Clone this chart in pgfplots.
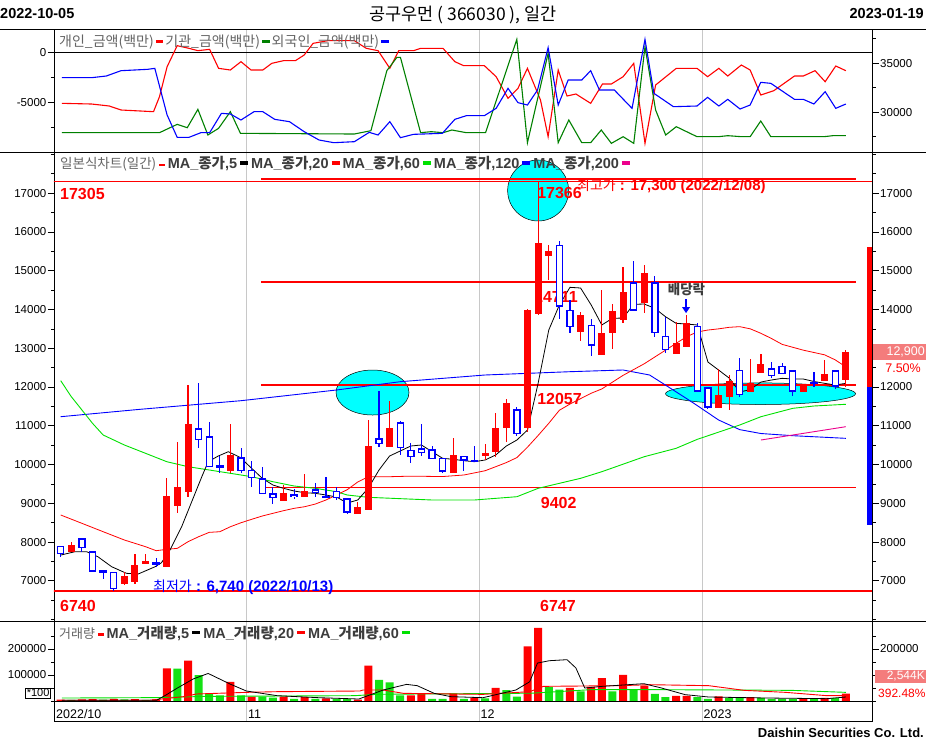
\documentclass[border=0pt]{standalone}
\usepackage{pgfplots}
\pgfplotsset{compat=1.18}
\usepackage{pgfplotstable}
\usepackage{fontspec}
\usetikzlibrary{arrows.meta}
\setmainfont{Liberation Sans}
\newfontfamily\kr{Noto Sans CJK KR}
\definecolor{cred}{RGB}{255,0,0}
\definecolor{cblue}{RGB}{0,0,255}
\definecolor{cgreen}{RGB}{0,128,0}
\definecolor{clime}{RGB}{0,225,0}
\definecolor{vgreen}{RGB}{20,225,20}
\definecolor{ccyan}{RGB}{0,255,255}
\definecolor{salmon}{RGB}{244,124,124}
\definecolor{lgray}{RGB}{200,200,200}
\definecolor{tgray}{RGB}{100,100,100}
\definecolor{dgray}{RGB}{60,60,60}
\newcommand\dash[1]{\textcolor{#1}{\rule[0.25em]{0.55em}{0.22em}}}

\pgfplotsset{
  panel/.style={
    scale only axis, width=818.5pt, anchor=north west,
    xmin=-0.6315, xmax=76.513,
    xtick={17.53,39.45,60.47}, xticklabels={}, xmajorgrids, xmajorticks=false,
    major grid style={draw=lgray, line width=0.9pt},
    axis line style={line width=0.9pt},
    tick align=outside, ytick pos=left,
    major tick length=6pt, minor tick length=3pt,
    tick style={black, line width=0.7pt},
    tick label style={font=\fontsize{11.5}{13}\selectfont, inner sep=1.5pt},
    scaled ticks=false,
    /pgf/number format/fixed,
    /pgf/number format/precision=0,
    /pgf/number format/assume math mode=true,
    /pgf/number format/1000 sep={},
  },
  rpanel/.style={
    scale only axis, width=818.5pt, anchor=north west,
    xmin=-0.6315, xmax=76.513,
    axis x line=none, axis y line*=right,
    axis line style={line width=0.9pt},
    tick align=outside, major tick length=6pt, minor tick length=3pt,
    tick style={black, line width=0.7pt},
    tick label style={font=\fontsize{11.5}{13}\selectfont, inner sep=1.5pt},
    scaled ticks=false,
    /pgf/number format/fixed,
    /pgf/number format/precision=0,
    /pgf/number format/assume math mode=true,
    /pgf/number format/1000 sep={},
  },
  level/.style={cred, line width=1.4pt},
}

\pgfplotstableread{
i O H L C
1 7752 7992 7752 7924
6 6909 7236 6884 7115
7 6978 7691 6909 7399
8 7442 7700 7425 7511
10 7365 9643 7365 9188
11 8938 10572 8758 9420
12 9300 12052 9153 11045
16 9841 11045 9790 10237
21 9067 9472 9060 9257
23 9170 9747 9170 9317
28 8715 9042 8715 8912
29 8826 11149 8826 10478
31 10461 11639 10461 10934
37 9773 10676 9773 10246
40 10228 10521 10117 10289
41 10332 11321 10203 10934
42 10934 11682 10590 11579
44 10934 14000 10848 13987
45 13883 17300 13850 15724
46 15388 15664 14761 15509
49 13419 13944 13195 13858
51 12826 14500 12826 13385
52 13385 14141 12980 13961
53 13729 15096 13659 14443
55 14175 15148 13917 14933
58 12843 13669 12843 13143
59 13040 13858 13040 13643
62 11466 12457 11466 11794
63 11734 12310 11407 12155
65 11879 12710 11879 12111
66 12369 12857 12369 12586
70 11884 12052 11884 12052
72 12155 12689 12155 12328
74 12181 12955 12008 12900
}\redT

\pgfplotstableread{
i O H L C
0 7906 7906 7623 7683
2 8096 8096 7752 7838
3 7760 7760 7218 7236
4 7270 7270 7038 7218
5 7227 7227 6740 6780
9 7477 7580 7365 7408
13 10934 12095 10418 10624
14 10727 11088 9927 9927
15 9979 10229 9773 9927
17 10185 10418 9790 9833
18 9859 10099 9429 9644
19 9644 9927 9240 9240
20 9257 9429 8973 9128
22 9231 9360 9102 9153
24 9360 9515 9153 9257
25 9188 9670 9128 9153
26 9325 9429 9085 9128
27 9128 9128 8715 8758
30 10676 11905 10461 10529
32 11088 11130 10246 10418
33 10375 10564 10031 10185
34 10418 11037 10228 10289
35 10392 10478 10134 10134
36 10177 10177 9773 9816
38 10228 10228 9842 10099
39 10099 10478 10074 10074
43 11424 11493 10736 10787
47 15664 15767 13746 14073
48 13987 14245 13385 13539
50 13600 13754 12800 13066
54 14701 15259 13950 13969
56 14701 14864 13282 13385
57 13324 13806 12885 12955
60 13582 13659 11879 11879
61 11992 11992 11425 11466
64 12439 12748 11734 11794
67 12482 12637 12232 12276
68 12547 12619 12330 12330
69 12426 12426 11781 11884
71 12137 12387 12000 12077
73 12426 12426 11948 12008
}\blueT

\pgfplotstableread{
i v
0 5000
2 6000
3 7000
5 8000
7 7000
9 6000
10 126000
12 155000
16 74000
18 17000
21 17000
23 15000
25 10000
28 5000
29 136000
33 22000
34 29000
37 29000
39 13000
41 51000
44 210000
45 281000
48 51000
50 54000
51 88000
53 101000
55 59000
58 20000
59 20000
62 18000
65 15000
70 8000
72 12000
74 28000
}\volR

\pgfplotstableread{
i v
1 4000
4 5000
6 6000
8 4000
11 125000
13 100000
14 27000
15 22000
17 22000
19 17000
20 13000
22 8000
24 8000
26 8000
27 8000
30 81000
31 72000
32 22000
35 8000
36 8000
38 8000
40 10000
42 42000
43 17000
46 54000
47 44000
49 37000
52 37000
54 44000
56 27000
57 15000
60 15000
61 8000
63 12000
64 12000
66 12000
67 8000
68 8000
69 8000
71 8000
73 12000
}\volG

\begin{document}
\begin{tikzpicture}
\path[use as bounding box] (0pt,0pt) rectangle (926pt,-745pt);

% ---------------- top panel ----------------
\begin{axis}[panel, at={(54pt,-29.5pt)}, height=122.5pt,
  ymin=-9970, ymax=2280, ytick={-5000,0}, minor ytick={-7500,-2500}]
\addplot[black, line width=1pt] coordinates {(-1,0) (78,0)};
\addplot[cred, line width=1.1pt] coordinates {(0.12,-5103)(2.91,-5170)(4.58,-5370)(5.69,-5770)(8.75,-5937)(9.31,-4437)(10.03,-1437)(10.98,663)(12.09,397)(12.93,163)(14.04,297)(14.88,-1603)(15.99,-1770)(16.99,-937)(17.94,-1770)(19.05,-1770)(19.89,-1103)(21.0,-837)(22.12,-837)(22.95,-270)(23.79,897)(25.18,1163)(27.68,1163)(28.8,397)(29.91,163)(31.02,-1603)(31.86,163)(33.25,163)(33.92,397)(36.03,397)(37.15,-937)(37.98,-1337)(39.93,-1337)(41.04,-2437)(42.16,-4603)(43.1,-3603)(43.99,-1603)(45.22,-4770)(45.94,-8437)(46.89,-1770)(47.72,-4370)(48.56,-4170)(49.95,-5103)(51.06,-3170)(51.9,-3170)(53.01,-2437)(54.01,-1103)(55.07,-9103)(56.07,-3270)(58.02,-1603)(59.97,-1603)(60.97,-2437)(62.03,-1603)(62.87,-2370)(64.15,-1270)(64.98,-1770)(65.98,-4270)(67.21,-3837)(69.16,-2370)(69.99,-2370)(71.1,-1837)(72.05,-2937)(73.05,-1370)(74.0,-1837)};
\addplot[cgreen, line width=1.1pt] coordinates {(0.12,-8037)(9.31,-8037)(10.98,-7203)(11.93,-7537)(12.93,-5703)(13.87,-8270)(14.88,-7603)(15.99,-5937)(16.94,-8103)(27.68,-8170)(29.24,-7837)(30.74,-1837)(31.69,-503)(32.02,-503)(33.92,-8037)(34.92,-7937)(36.03,-8037)(36.87,-7770)(38.23,-8037)(40.04,-8037)(42.99,1297)(43.99,-9037)(45.94,-103)(46.89,-9037)(47.89,-6770)(49.11,-9037)(49.95,-9037)(50.95,-7770)(51.9,-9103)(53.01,-8437)(54.01,-9103)(55.07,563)(56.07,-5770)(57.02,-8270)(58.02,-7437)(59.97,-8437)(61.99,-8437)(62.87,-8337)(64.15,-8437)(64.98,-8437)(65.98,-6870)(66.93,-8437)(71.94,-8437)(72.77,-8337)(74.0,-8337)};
\addplot[cblue, line width=1.1pt] coordinates {(0.12,-2537)(2.91,-2537)(4.3,-2370)(5.69,-1837)(8.2,-1703)(8.87,-1603)(10.03,-6270)(10.98,-8503)(12.09,-8503)(13.21,-8037)(14.04,-8037)(15.15,-6103)(15.99,-6170)(16.99,-6770)(18.22,-5937)(19.05,-5937)(20.17,-6703)(21.56,-6937)(22.95,-7937)(24.35,-8770)(25.74,-9037)(27.68,-8937)(29.08,-8003)(29.91,-8270)(31.02,-6937)(32.02,-8537)(33.25,-8203)(35.97,-8103)(37.15,-6703)(38.23,-6337)(39.93,-6337)(41.04,-5603)(42.16,-3603)(43.1,-5037)(43.99,-5270)(44.94,-3770)(45.94,463)(46.89,-5270)(47.83,-2770)(49.11,-2770)(49.95,-1837)(50.78,-3770)(52.18,-3770)(53.85,-5603)(55.07,1297)(55.91,-4103)(57.75,-5437)(59.97,-5370)(60.97,-4503)(62.03,-5370)(62.87,-4703)(64.03,-5670)(64.98,-5270)(65.98,-3003)(66.93,-3103)(69.16,-4703)(69.99,-4703)(70.99,-5170)(72.05,-3937)(73.05,-5603)(74.0,-5170)};
\end{axis}
\begin{axis}[rpanel, at={(54pt,-29.5pt)}, height=122.5pt,
  ymin=25949, ymax=38449, ytick={30000,35000}, minor ytick={27500,32500,37500}]
\end{axis}

% ---------------- main panel ----------------
\begin{axis}[panel, at={(54pt,-152pt)}, height=469.5pt,
  ymin=5950, ymax=18063, ytick={7000,8000,...,17000}, minor ytick={6000,6500,...,18000}]
\filldraw[fill=ccyan, draw=black, line width=0.5pt] (axis cs:45,17070) circle [radius=30.5pt];
\filldraw[fill=ccyan, draw=black, line width=0.5pt] (axis cs:29.39,11858) ellipse [x radius=36.5pt, y radius=22.5pt];
\filldraw[fill=ccyan, draw=black, line width=0.5pt] (axis cs:65.96,11827) ellipse [x radius=95pt, y radius=10.8pt];
\addplot[level] coordinates {(-1,17305) (78,17305)};
\addplot[level] coordinates {(-1,6740) (78,6740)};
\addplot[level] coordinates {(18.88,17366) (74.96,17366)};
\addplot[level] coordinates {(18.88,14711) (74.96,14711)};
\addplot[level] coordinates {(18.88,12057) (74.96,12057)};
\addplot[level] coordinates {(18.88,9402) (74.96,9402)};
\addplot[level] coordinates {(18.88,6747) (74.96,6747)};
\addplot[cblue, line width=0.9pt] coordinates {(0,11234)(7.5,11425)(17,11647)(26,11923)(32,12137)(40,12310)(48,12395)(53,12439)(55.5,12310)(57,12050)(59,11700)(60,11520)(62,11150)(64,10900)(66,10800)(69,10744)(74,10676)};
\addplot[magenta, line width=0.9pt] coordinates {(66,10633)(74,10976)};
\addplot[clime, line width=0.9pt] coordinates {(0,12163)(1,11750)(2,11407)(3,11063)(4,10762)(6,10504)(8,10289)(10,10073)(12,9944)(14,9859)(16,9773)(18,9686)(20,9557)(22,9446)(24,9386)(26,9299)(27,9214)(29,9154)(35,9085)(39,9085)(43,9170)(45,9386)(49,9644)(51,9815)(55,10202)(58,10418)(60,10650)(64,11020)(66,11234)(69,11450)(71,11510)(74,11554)};
\addplot[cred, line width=0.8pt] coordinates {(0,8698)(2,8483)(4,8267)(6,8053)(8,7880)(9,7777)(10,7812)(11,7838)(12,8009)(13,8138)(14,8250)(15,8267)(16,8396)(17,8499)(18,8587)(19,8672)(20,8741)(21,8809)(22,8870)(23,8912)(24,8981)(25,9085)(26,9214)(27,9350)(28,9550)(29,9686)(31,9686)(33,9700)(36,9690)(38,9730)(40,9840)(41,9944)(42,10050)(43,10180)(44,10450)(45,10750)(46,11063)(47,11400)(48,11560)(49,11700)(50,11840)(51,11950)(53,12300)(55,12600)(57,12950)(59,13300)(60,13420)(61,13470)(62,13500)(63,13540)(64,13557)(65,13500)(66,13385)(67,13250)(68,13100)(70,12950)(72,12830)(73,12700)(74,12520)};
\addplot[black, line width=0.8pt] coordinates {(0,7664)(1.35,7751)(2.45,7751)(3.5,7622)(4.8,7364)(6.2,7193)(7.3,7175)(8.9,7364)(9.5,7467)(10.3,7795)(11.4,8396)(12.35,9041)(13.3,9686)(13.9,10073)(14.85,10220)(15.8,10331)(16.9,10186)(18,9902)(19,9644)(20,9472)(21,9386)(22,9317)(23,9273)(24,9257)(25,9214)(26,9162)(27,9007)(28,9085)(29,9394)(30,9859)(31,10220)(32,10349)(33,10478)(34,10504)(35,10331)(36,10160)(37,10135)(38,10099)(39,10073)(40,10117)(41,10246)(42,10478)(43,10633)(44,10891)(45,12100)(46,13470)(47,14116)(48,14572)(49,14554)(50,14116)(51,13600)(52,13772)(53,13780)(54,14134)(55,14141)(56,14030)(57,13814)(58,13643)(59,13625)(60,13600)(61,12645)(62,12439)(63,12232)(64,11871)(65,11935)(66,12129)(67,12181)(68,12224)(69,12206)(70,12206)(71,12142)(72,12095)(73,12052)(74,12095)};
\begin{scope}[every node/.style={text=cred, anchor=west, inner sep=0pt, font=\bfseries\fontsize{16}{18}\selectfont}]
\node at (axis cs:-0.066,16979) {17305};
\node at (axis cs:44.9,16997) {17366};
\node at (axis cs:44.6,14330) {14711};
\node at (axis cs:44.9,11683) {12057};
\node at (axis cs:45.24,9015) {9402};
\node at (axis cs:45.17,6350) {6747};
\node at (axis cs:-0.066,6350) {6740};
\end{scope}
\addplot[draw=none, mark=none, error bars/.cd, y dir=both, y explicit, error mark=none,
  error bar style={draw=cred, line width=1.1pt}]
  table[x=i, y expr={(\thisrow{H}+\thisrow{L})/2}, y error expr={(\thisrow{H}-\thisrow{L})/2}] {\redT};
\addplot[draw=none, mark=none, error bars/.cd, y dir=both, y explicit, error mark=none,
  error bar style={draw=cblue, line width=1.1pt}]
  table[x=i, y expr={(\thisrow{H}+\thisrow{L})/2}, y error expr={(\thisrow{H}-\thisrow{L})/2}] {\blueT};
\addplot[draw=none, mark=none, error bars/.cd, y dir=both, y explicit, error mark=none,
  error bar style={draw=cred, line width=7pt}]
  table[x=i, y expr={(\thisrow{O}+\thisrow{C})/2}, y error expr={max(abs(\thisrow{O}-\thisrow{C})/2,22)}] {\redT};
\addplot[draw=none, mark=none, error bars/.cd, y dir=both, y explicit, error mark=none,
  error bar style={draw=cblue, line width=7.4pt}]
  table[x=i, y expr={(\thisrow{O}+\thisrow{C})/2}, y error expr={max(abs(\thisrow{O}-\thisrow{C})/2,30)}] {\blueT};
\addplot[draw=none, mark=none, error bars/.cd, y dir=both, y explicit, error mark=none,
  error bar style={draw=white, line width=4.6pt}]
  table[x=i, y expr={(\thisrow{O}+\thisrow{C})/2}, y error expr={max(abs(\thisrow{O}-\thisrow{C})/2-36,0)}] {\blueT};
\node[anchor=west, inner sep=0pt, text=cred] at (axis cs:48.66,17186) {{\kr\fontsize{14}{16}\selectfont 최고가}\bfseries\fontsize{15}{17}\selectfont{} : 17,300 (2022/12/08)};
\node[anchor=west, inner sep=0pt, text=cblue] at (axis cs:8.7,6822) {{\kr\fontsize{14}{16}\selectfont 최저가}\bfseries\fontsize{15}{17}\selectfont{} : 6,740 (2022/10/13)};
\node[inner sep=0pt, text=dgray] at (axis cs:58.98,14528) {\kr\bfseries\fontsize{13.5}{15}\selectfont 배당락};
\draw[cblue, line width=2.2pt, -{Triangle[width=7.5pt,length=6pt]}] (axis cs:58.94,14260) -- (axis cs:58.94,13905);
\end{axis}
\begin{axis}[rpanel, at={(54pt,-152pt)}, height=469.5pt,
  ymin=5950, ymax=18063, ytick={7000,8000,9000,10000,11000,12000,14000,15000,16000,17000},
  extra y ticks={13000}, extra y tick labels={}, minor ytick={6000,6500,...,18000}]
\end{axis}

% ---------------- volume panel ----------------
\begin{axis}[panel, at={(54pt,-621.5pt)}, height=100.2pt,
  ymin=-79615, ymax=305769, ytick={100000,200000}, minor ytick={0,50000,150000,250000}]
\addplot[ybar, bar width=8pt, bar shift=0pt, fill=cred, draw=none] table[x=i, y=v] {\volR};
\addplot[ybar, bar width=8pt, bar shift=0pt, fill=vgreen, draw=none] table[x=i, y=v] {\volG};
\addplot[clime, line width=0.9pt] coordinates {(0.12,11500)(9.03,13000)(13.76,17900)(27.68,20500)(29.91,25800)(44.38,30000)(49.95,43600)(56.63,43600)(68.88,41000)(74,33300)};
\addplot[cred, line width=0.9pt] coordinates {(0.12,3000)(8.4,3000)(11.56,16700)(12.8,27000)(17.5,33300)(20.4,35900)(28.2,38500)(28.5,42300)(30.4,42300)(32.3,29500)(39.8,25600)(44.2,35900)(45.5,56400)(52.73,59000)(55.52,62800)(61.08,59000)(64.42,41000)(68.32,33300)(72.22,20500)(74,20500)};
\addplot[black, line width=0.8pt] coordinates {(0.12,2564)(9.03,2564)(10,25000)(11,50000)(12.5,85000)(13.9,106000)(15.96,65400)(17.5,38500)(20.4,20500)(24.3,12800)(28.1,7700)(30.4,42300)(32.6,64000)(33.6,59000)(35.2,29500)(36.8,16700)(39.8,12800)(42.9,42300)(44.2,74000)(44.94,146000)(46.05,155000)(47.72,159000)(48.56,127000)(49.39,50000)(51.06,56400)(54.96,66700)(56.63,50000)(58.86,24400)(61.08,15400)(66.65,11500)(72.22,9000)(74,15400)};
\addplot[black, line width=0.9pt] coordinates {(-1,0) (78,0)};
\end{axis}
\begin{axis}[rpanel, at={(54pt,-621.5pt)}, height=100.2pt,
  ymin=-79615, ymax=305769, ytick={200000}, extra y ticks={100000}, extra y tick labels={},
  minor ytick={0,50000,150000,250000}]
\end{axis}

% ---------------- frame lines ----------------
\draw[line width=0.9pt] (0pt,-29.5pt) -- (926pt,-29.5pt);
\draw[line width=0.9pt] (0pt,-152pt) -- (926pt,-152pt);
\draw[line width=0.9pt] (0pt,-621.5pt) -- (926pt,-621.5pt);

\fill[cred] (867.3pt,-247pt) rectangle (872pt,-387.3pt);
\fill[cblue] (867.3pt,-387.3pt) rectangle (872pt,-525pt);

\node[anchor=west, inner sep=0pt] at (0pt,-14pt) {\bfseries\fontsize{14.5}{16}\selectfont 2022-10-05};
\node[anchor=east, inner sep=0pt] at (924pt,-14pt) {\bfseries\fontsize{14.5}{16}\selectfont 2023-01-19};
\node[inner sep=0pt, text=black] at (463pt,-15pt) {\kr\fontsize{17.5}{19}\selectfont 공구우먼 ( 366030 ), 일간};

\node[anchor=west, inner sep=0pt] at (59pt,-42pt) {\kr\fontsize{14}{16}\selectfont\color{tgray}개인\_금액(백만)\hspace{2pt}\dash{cred}\hspace{2pt}기관\_금액(백만)\hspace{2pt}\dash{cgreen}\hspace{2pt}외국인\_금액(백만)\hspace{2pt}\dash{cblue}};
\node[anchor=west, inner sep=0pt] at (60pt,-163.5pt) {{\kr\fontsize{13.5}{15}\selectfont\color{tgray}일본식차트(일간)}\hspace{3pt}\dash{cred}\hspace{3pt}{\color{dgray}\bfseries\fontsize{14.5}{16}\selectfont MA\_{\kr 종가},5\hspace{3pt}\dash{black}\hspace{3pt}MA\_{\kr 종가},20\hspace{3pt}\dash{cred}\hspace{3pt}MA\_{\kr 종가},60\hspace{3pt}\dash{clime}\hspace{3pt}MA\_{\kr 종가},120\hspace{3pt}\dash{cblue}\hspace{3pt}MA\_{\kr 종가},200\hspace{3pt}\dash{magenta}}};
\node[anchor=west, inner sep=0pt] at (59pt,-633pt) {{\kr\fontsize{13}{15}\selectfont\color{tgray}거래량}\hspace{3pt}\dash{cred}\hspace{3pt}{\color{dgray}\bfseries\fontsize{14.5}{16}\selectfont MA\_{\kr 거래량},5\hspace{3pt}\dash{black}\hspace{3pt}MA\_{\kr 거래량},20\hspace{3pt}\dash{cred}\hspace{3pt}MA\_{\kr 거래량},60\hspace{3pt}\dash{clime}}};

\node[fill=salmon, text=white, anchor=east, minimum height=16pt, inner sep=0pt] at (926pt,-352pt) {\makebox[53pt][r]{\fontsize{12.5}{14}\selectfont 12,900\hspace{1pt}}};
\node[anchor=east, text=cred, inner sep=0pt] at (921pt,-368.5pt) {\fontsize{12.5}{14}\selectfont 7.50\%};
\node[fill=salmon, text=white, anchor=east, minimum height=13pt, inner sep=0pt] at (926pt,-676pt) {\makebox[51pt][r]{\fontsize{12}{14}\selectfont 2,544K\hspace{1pt}}};
\node[anchor=west, text=cred, inner sep=0pt] at (878pt,-693pt) {\fontsize{12}{14}\selectfont 392.48\%};
\node[draw, anchor=east, inner sep=1.2pt, line width=0.7pt] at (51pt,-693pt) {\fontsize{11}{12}\selectfont *100};

\node[anchor=west, inner sep=1pt] at (55pt,-714pt) {\fontsize{12.5}{14}\selectfont 2022/10};
\node[anchor=west, inner sep=1pt] at (247pt,-714pt) {\fontsize{12.5}{14}\selectfont 11};
\node[anchor=west, inner sep=1pt] at (479.5pt,-714pt) {\fontsize{12.5}{14}\selectfont 12};
\node[anchor=west, inner sep=1pt] at (702.5pt,-714pt) {\fontsize{12.5}{14}\selectfont 2023};

\node[anchor=east, inner sep=0pt] at (924pt,-733pt) {\bfseries\fontsize{13}{15}\selectfont Daishin Securities Co. Ltd.};
\end{tikzpicture}
\end{document}
